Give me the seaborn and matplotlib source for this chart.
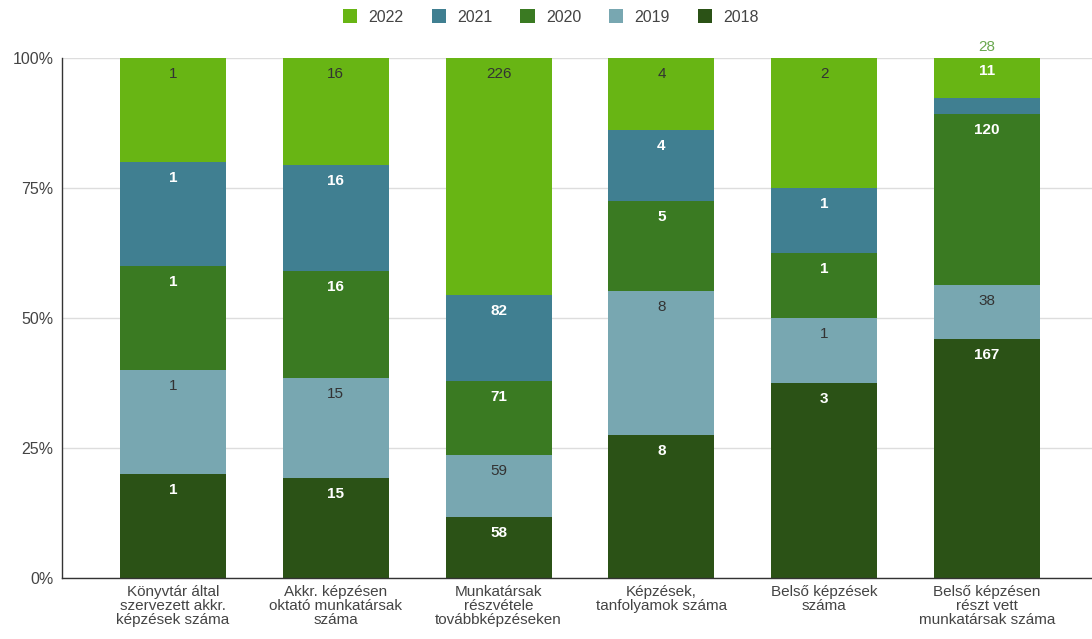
import numpy as np
import pandas as pd
import matplotlib
matplotlib.use("Agg")
import matplotlib.pyplot as plt
import seaborn as sns
from matplotlib.patches import Patch

categories = [
    "Könyvtár által\nszervezett akkr.\nképzések száma",
    "Akkr. képzésen\noktató munkatársak\nszáma",
    "Munkatársak\nrészvétele\ntovábbképzéseken",
    "Képzések,\ntanfolyamok száma",
    "Belső képzések\nszáma",
    "Belső képzésen\nrészt vett\nmunkatársak száma",
]
years = ["2018", "2019", "2020", "2021", "2022"]
v2018 = [1, 15, 58, 8, 3, 167]
v2019 = [1, 15, 59, 8, 1, 38]
v2020 = [1, 16, 71, 5, 1, 120]
v2021 = [1, 16, 82, 4, 1, 11]
v2022 = [1, 16, 226, 4, 2, 28]
y_ticks = [0, 25, 50, 75, 100]
y_tick_labels = ["0%", "25%", "50%", "75%", "100%"]

colors = {"2018": "#2b5216", "2019": "#78a7b1", "2020": "#3a7a22",
          "2021": "#407f91", "2022": "#68b514"}
label_colors = {"2018": "white", "2019": "#333333", "2020": "white",
                "2021": "white", "2022": "#333333"}

series = {"2018": v2018, "2019": v2019, "2020": v2020, "2021": v2021, "2022": v2022}
df = pd.DataFrame(series, index=categories)
pct = df.div(df.sum(axis=1), axis=0) * 100

sns.set_theme(style="white")
plt.rcParams["font.family"] = ["Liberation Sans", "DejaVu Sans"]

fig = plt.figure(figsize=(10.92, 6.39), dpi=100)
ax = fig.add_axes([62 / 1092, 1 - 578 / 639, 1 - 62 / 1092, (578 - 58) / 639])

cum = np.zeros(len(categories))
for y in years:
    vals = pct[y].values
    sns.barplot(x=list(range(len(categories))), y=vals, bottom=cum, color=colors[y],
                width=0.65, ax=ax, native_scale=True, saturation=1, linewidth=0,
                zorder=2)
    for i, (v, raw) in enumerate(zip(vals, df[y].values)):
        top = cum[i] + v
        if i == 5 and y == "2021":
            ax.annotate(str(raw), (i, 100), xytext=(0, -13), textcoords="offset pixels",
                        ha="center", va="center", color="white", fontsize=11,
                        fontweight="bold", zorder=5)
            continue
        if i == 5 and y == "2022":
            ax.annotate(str(raw), (i, 100), xytext=(0, 11), textcoords="offset pixels",
                        ha="center", va="center", color="#6aa84f", fontsize=11,
                        zorder=5, annotation_clip=False)
            continue
        weight = "bold" if label_colors[y] == "white" else "normal"
        ax.annotate(str(raw), (i, top), xytext=(0, -16), textcoords="offset pixels",
                    ha="center", va="center", color=label_colors[y], fontsize=11,
                    fontweight=weight, zorder=5)
    cum = cum + vals

ax.set_xlim(-111 / 162.7, 5 + 105 / 162.7)
ax.set_ylim(0, 100)
ax.set_yticks(y_ticks)
ax.set_yticklabels(y_tick_labels, fontsize=11.5, color="#444444")
ax.set_xticks(range(len(categories)))
ax.set_xticklabels(categories, fontsize=11, color="#444444", linespacing=1.0)
ax.tick_params(axis="x", length=0, pad=5)
ax.tick_params(axis="y", length=0, pad=6)
ax.yaxis.grid(True, color="#dddddd", linewidth=1, zorder=0)
ax.set_axisbelow(True)
for s in ["top", "right"]:
    ax.spines[s].set_visible(False)
ax.spines["left"].set_color("#333333")
ax.spines["bottom"].set_color("#333333")
ax.spines["left"].set_linewidth(1)
ax.spines["bottom"].set_linewidth(1)

handles = [Patch(facecolor=colors[y], edgecolor="none", label=y) for y in years[::-1]]
fig.legend(handles=handles, loc="center", bbox_to_anchor=(551 / 1092, 1 - 17 / 639), ncol=5,
           frameon=False, fontsize=11.5, handlelength=0.9, handleheight=0.9,
           handletextpad=0.7, columnspacing=1.75, labelcolor="#444444")

fig.savefig("out.png", dpi=100)
